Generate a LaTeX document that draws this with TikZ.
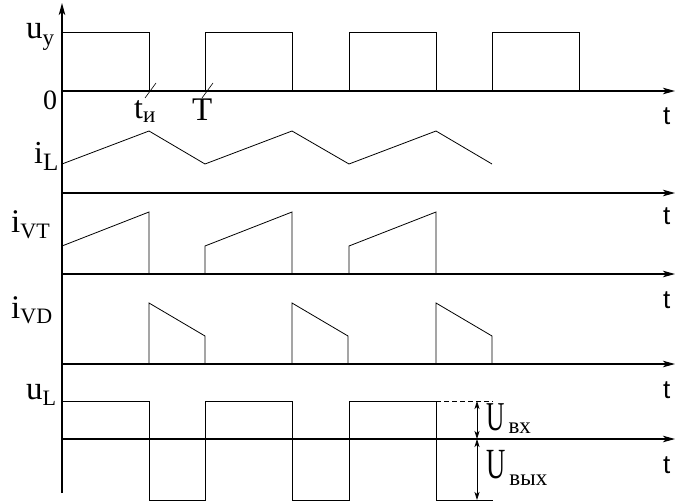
\documentclass[tikz,border=0pt]{standalone}
\usepackage{fontspec}
\setmainfont{Liberation Serif}
\newfontfamily\sansf{Liberation Sans}
\usetikzlibrary{arrows.meta}
\newcommand{\mymain}[2]{{\fontsize{#1}{#1}\selectfont #2}}
\newcommand{\mysub}[3]{\raisebox{-#1pt}{\fontsize{#2}{#2}\selectfont #3}}
\tikzset{
  axis/.style={line width=1.1pt,-{Stealth[length=12pt,width=6.5pt,inset=3pt]}},
  wave/.style={line width=1pt},
  ramp/.style={line width=0.8pt},
  tickl/.style={line width=0.6pt},
  dim/.style={line width=0.8pt,{Stealth[length=8pt,width=5pt,inset=2pt]}-{Stealth[length=8pt,width=5pt,inset=2pt]}},
  lbl/.style={inner sep=0pt,anchor=base west},
  tlbl/.style={inner sep=0pt,anchor=base west,font=\sansf\fontsize{26}{26}\selectfont}
}
\begin{document}
\begin{tikzpicture}[x=1pt,y=-1pt]
\useasboundingbox (0,0) rectangle (693,503);
% axes
\draw[axis] (62,493) -- (62,3);
\foreach \yy in {91,193,274,364,439} \draw[axis] (62,\yy) -- (675,\yy);
% u_y pulses
\draw[wave] (62,33) -- (149,33) -- (149,91);
\foreach \xx in {205,349,492} \draw[wave] (\xx,91) -- (\xx,33) -- ({\xx+87},33) -- ({\xx+87},91);
% ticks
\draw[tickl] (145,98) -- (156,83);
\draw[tickl] (202,98) -- (213,83);
% i_L
\draw[ramp] (62,164) -- (149,131) -- (205,164) -- (292,131) -- (349,164) -- (436,131) -- (492,164);
% i_VT
\draw[ramp] (62,246) -- (149,212) -- (149,274);
\draw[ramp] (205,274) -- (205,246) -- (292,212) -- (292,274);
\draw[ramp] (349,274) -- (349,246) -- (436,212) -- (436,274);
% i_VD
\foreach \xx in {149,292,436} \draw[ramp] (\xx,364) -- (\xx,303) -- ({\xx+56},336) -- ({\xx+56},364);
% u_L
\draw[wave] (62,401) -- (149,401) -- (149,500) -- (205,500) -- (205,401) -- (292,401) -- (292,500) -- (349,500) -- (349,401) -- (436,401) -- (436,500) -- (493,500);
\draw[ramp,dashed,dash pattern=on 5pt off 3pt] (436,401) -- (493,401);
\draw[dim] (477,401) -- (477,439);
\draw[dim] (477,439) -- (477,500);
% labels
\node[lbl] (luy) at (26,39) {\mymain{33}{u}\mysub{6}{23}{у}};
\node[lbl] (lzero) at (43,109) {\mymain{28}{0}};
\node[lbl] (lti) at (134,118) {\mymain{32}{t}\mysub{4}{23}{и}};
\node[lbl] (lT) at (192,120) {\mymain{33}{T}};
\node[lbl] (liL) at (34,163) {\mymain{32}{i}\mysub{7}{25}{L}};
\node[lbl] (liVT) at (11,232) {\mymain{33}{i}\mysub{6}{22}{VT}};
\node[lbl] (liVD) at (11,318) {\mymain{33}{i}\mysub{5}{22}{VD}};
\node[lbl] (luL) at (26,399) {\mymain{33}{u}\mysub{6}{22}{L}};
\node[lbl] (lUin) at (486,430) {\scalebox{0.62}[1]{\mymain{41}{U}}\hspace{4pt}\mysub{3}{23}{вх}};
\node[lbl] (lUout) at (486,478) {\scalebox{0.62}[1]{\mymain{43}{U}}\hspace{4pt}\mysub{7}{23}{вых}};
\node[tlbl] (t1) at (663,124) {t};
\node[tlbl] (t2) at (663,224) {t};
\node[tlbl] (t3) at (663,308) {t};
\node[tlbl] (t4) at (663,398) {t};
\node[tlbl] (t5) at (663,473) {t};
\end{tikzpicture}
\end{document}
